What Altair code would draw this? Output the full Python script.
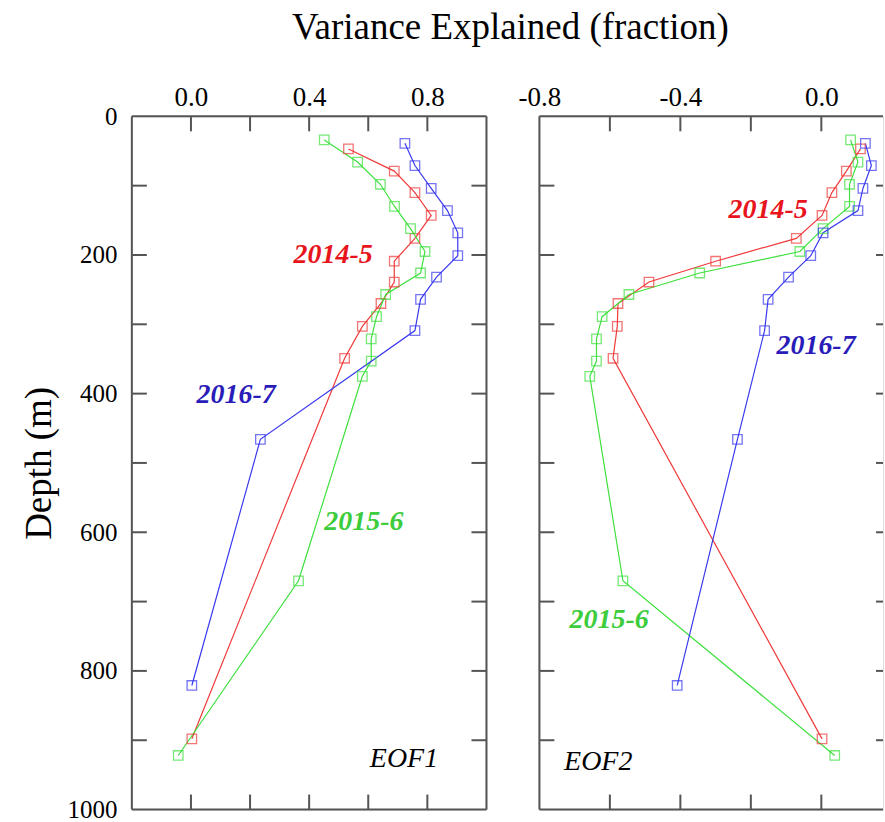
import altair as alt
import pandas as pd

# ---- data ----
series_names = ["2014-5", "2015-6", "2016-7"]

depth_2014 = [47, 79, 110, 143, 176, 209, 239, 270, 303, 349, 898]
eof1_2014 = [0.533, 0.688, 0.758, 0.813, 0.758, 0.688, 0.688, 0.643, 0.580, 0.520, 0.003]
eof2_2014 = [0.111, 0.071, 0.030, 0.002, -0.071, -0.300, -0.489, -0.577, -0.579, -0.591, 0.002]

depth_2015 = [34, 66, 98, 130, 162, 195, 226, 257, 289, 321, 353, 375, 670, 922]
eof1_2015 = [0.451, 0.564, 0.641, 0.689, 0.743, 0.792, 0.777, 0.659, 0.628, 0.610, 0.610, 0.580, 0.364, -0.043]
eof2_2015 = [0.083, 0.104, 0.080, 0.080, 0.005, -0.061, -0.345, -0.546, -0.622, -0.638, -0.638, -0.657, -0.563, 0.038]

depth_2016 = [39, 71, 104, 136, 168, 201, 232, 264, 309, 466, 821]
eof1_2016 = [0.724, 0.758, 0.813, 0.868, 0.903, 0.903, 0.831, 0.777, 0.758, 0.235, 0.003]
eof2_2016 = [0.125, 0.142, 0.118, 0.104, 0.005, -0.030, -0.093, -0.151, -0.161, -0.238, -0.409]

# in-panel labels
eof1_label_text = ["2014-5", "2016-7", "2015-6"]
eof1_label_x = [0.481, 0.153, 0.585]
eof1_label_depth = [200, 402, 585]
eof2_label_text = ["2014-5", "2016-7", "2015-6"]
eof2_label_x = [-0.151, -0.015, -0.602]
eof2_label_depth = [135, 331, 726]
panel_names = ["EOF1", "EOF2"]
panel_name_x = [0.721, -0.633]
panel_name_depth = [927, 931]

# axes
eof1_tick_values = [0.0, 0.2, 0.4, 0.6, 0.8]
eof1_label_values = [0.0, 0.4, 0.8]
eof2_tick_values = [-0.6, -0.4, -0.2, 0.0]
eof2_label_values = [-0.8, -0.4, 0.0]
depth_tick_values = [100, 200, 300, 400, 500, 600, 700, 800, 900]
depth_label_values = [0, 200, 400, 600, 800, 1000]

# ---- styles ----
FONT = "Liberation Serif"
FRAME = "#555555"
line_colors = ["#f03a3a", "#3ee03e", "#3a3af0"]
label_colors = ["#e8141c", "#3ccc3c", "#2a1cb8"]
H = 694


def long_frame(d14, v14, d15, v15, d16, v16):
    rows = []
    for name, ds, vs in zip(series_names, [d14, d15, d16], [v14, v15, v16]):
        for d, v in zip(ds, vs):
            rows.append({"series": name, "depth": d, "value": v})
    return pd.DataFrame(rows)


def make_panel(df, xdom, width, tick_vals, label_vals, lab_text, lab_x, lab_d,
               pname, pname_x, pname_d, show_y, right_frame):
    xs = alt.Scale(domain=xdom, nice=False, zero=False)
    ys = alt.Scale(domain=[0, 1000], reverse=True, nice=False, zero=False)

    xaxis = alt.Axis(orient="top", values=label_vals, ticks=False, domain=False,
                     grid=False, labelFont=FONT, labelFontSize=27, labelColor="black",
                     labelPadding=5, labelFlush=False, labelOverlap=False, title=None,
                     labelExpr="(datum.value < 0 ? '-' : '') + format(abs(datum.value), '.1f')")
    if show_y:
        yaxis = alt.Axis(values=depth_label_values, ticks=False, domain=False, grid=False,
                         labelFont=FONT, labelFontSize=25, labelColor="black",
                         labelPadding=15, labelOverlap=False, format="d",
                         title="Depth (m)", titleFont=FONT, titleFontSize=37,
                         titleFontWeight="normal", titleColor="black", titlePadding=8)
    else:
        yaxis = None

    color = alt.Color("series:N", scale=alt.Scale(domain=series_names, range=line_colors),
                      legend=None)

    base = alt.Chart(df)
    lines = base.mark_line(strokeWidth=1.2, clip=True).encode(
        x=alt.X("value:Q", scale=xs, axis=xaxis),
        y=alt.Y("depth:Q", scale=ys, axis=yaxis),
        color=color,
        order=alt.Order("depth:Q"),
    )
    pts = base.mark_point(shape="square", filled=False, size=90, strokeWidth=1.3).encode(
        x=alt.X("value:Q", scale=xs),
        y=alt.Y("depth:Q", scale=ys),
        color=color,
    )

    lab_df = pd.DataFrame({"label": lab_text, "value": lab_x, "depth": lab_d})
    labels = alt.Chart(lab_df).mark_text(font=FONT, fontSize=28, fontStyle="italic",
                                         fontWeight="bold").encode(
        x=alt.X("value:Q", scale=xs),
        y=alt.Y("depth:Q", scale=ys),
        text="label:N",
        color=alt.Color("label:N", scale=alt.Scale(domain=series_names, range=label_colors),
                        legend=None),
    )
    pn_df = pd.DataFrame({"label": [pname], "value": [pname_x], "depth": [pname_d]})
    pn = alt.Chart(pn_df).mark_text(font=FONT, fontSize=28, fontStyle="italic",
                                    color="black").encode(
        x=alt.X("value:Q", scale=xs),
        y=alt.Y("depth:Q", scale=ys),
        text="label:N",
    )

    xt_df = pd.DataFrame({"value": tick_vals})
    top_ticks = alt.Chart(xt_df).mark_rule(color=FRAME, strokeWidth=2).encode(
        x=alt.X("value:Q", scale=xs), y=alt.value(0), y2=alt.value(15))
    bot_ticks = alt.Chart(xt_df).mark_rule(color=FRAME, strokeWidth=2).encode(
        x=alt.X("value:Q", scale=xs), y=alt.value(H - 15), y2=alt.value(H))
    yt_df = pd.DataFrame({"depth": depth_tick_values})
    left_ticks = alt.Chart(yt_df).mark_rule(color=FRAME, strokeWidth=2).encode(
        y=alt.Y("depth:Q", scale=ys), x=alt.value(0), x2=alt.value(15))
    rt_len = 15 if right_frame else 7
    right_ticks = alt.Chart(yt_df).mark_rule(color=FRAME, strokeWidth=2).encode(
        y=alt.Y("depth:Q", scale=ys), x=alt.value(width - rt_len), x2=alt.value(width))

    one = pd.DataFrame({"k": [0]})
    frame_layers = [
        alt.Chart(one).mark_rule(color=FRAME, strokeWidth=2).encode(
            x=alt.value(0), x2=alt.value(width), y=alt.value(0)),
        alt.Chart(one).mark_rule(color=FRAME, strokeWidth=2).encode(
            x=alt.value(0), x2=alt.value(width), y=alt.value(H)),
        alt.Chart(one).mark_rule(color=FRAME, strokeWidth=2).encode(
            x=alt.value(0), y=alt.value(0), y2=alt.value(H)),
    ]
    if right_frame:
        frame_layers.append(alt.Chart(one).mark_rule(color=FRAME, strokeWidth=2).encode(
            x=alt.value(width), y=alt.value(0), y2=alt.value(H)))

    layer = alt.layer(lines, pts, labels, pn, top_ticks, bot_ticks, left_ticks, right_ticks,
                      *frame_layers).resolve_scale(color="independent").properties(
        width=width, height=H)
    return layer


df1 = long_frame(depth_2014, eof1_2014, depth_2015, eof1_2015, depth_2016, eof1_2016)
df2 = long_frame(depth_2014, eof2_2014, depth_2015, eof2_2015, depth_2016, eof2_2016)

p1 = make_panel(df1, [-0.2, 1.0], 355, eof1_tick_values, eof1_label_values,
                eof1_label_text, eof1_label_x, eof1_label_depth,
                panel_names[0], panel_name_x[0], panel_name_depth[0], True, True)
p2 = make_panel(df2, [-0.8, 0.175], 344, eof2_tick_values, eof2_label_values,
                eof2_label_text, eof2_label_x, eof2_label_depth,
                panel_names[1], panel_name_x[1], panel_name_depth[1], False, False)

chart = alt.hconcat(p1, p2, spacing=53, bounds="flush").properties(
    title=alt.TitleParams("Variance Explained (fraction)", font=FONT, fontSize=37,
                          fontWeight="normal", color="black", anchor="middle",
                          offset=36, dx=58),
    padding={"left": 20, "top": 8, "right": 0, "bottom": 0},
).configure_view(stroke=None).configure(background="white")

chart.save("out.html", embed_options={"renderer": "svg", "actions": False})
